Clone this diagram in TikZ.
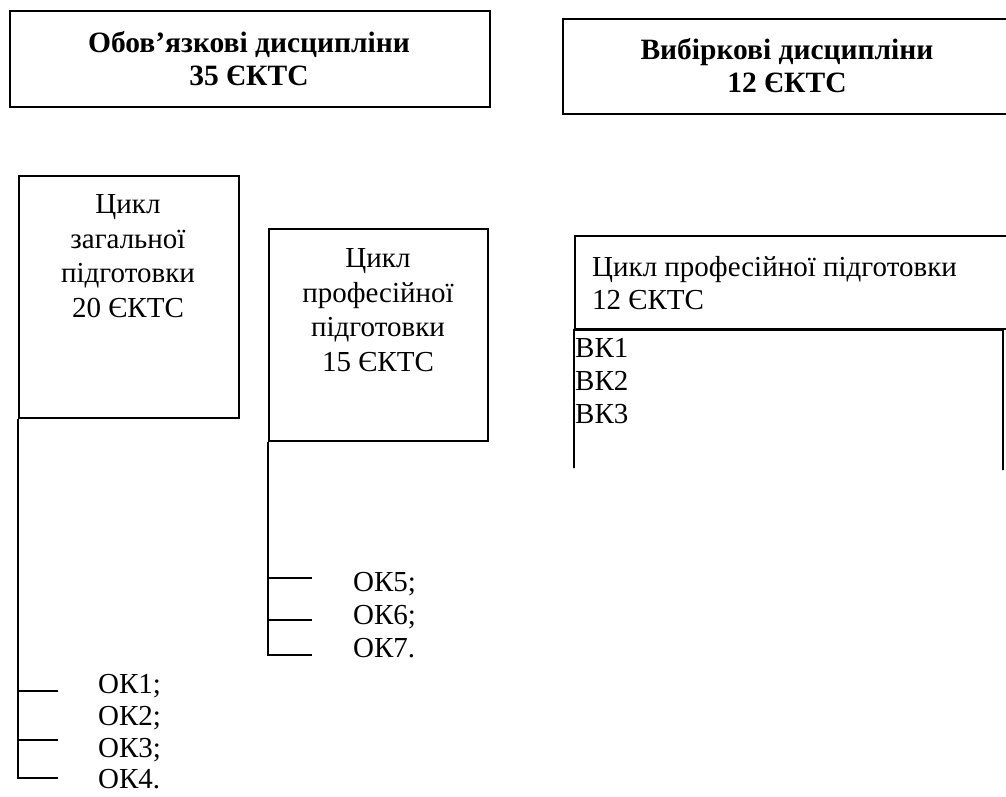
\documentclass[tikz,border=0pt]{standalone}
\usepackage{fontspec}
\setmainfont{Liberation Serif}
\begin{document}
\begin{tikzpicture}[x=1pt,y=-1pt,
  box/.style={draw, line width=1.9pt, inner sep=0pt},
  ttl/.style={font=\fontsize{29.5}{33}\selectfont\bfseries, align=center, inner sep=0pt},
  txt/.style={font=\fontsize{29}{34.5}\selectfont, align=center, inner sep=0pt},
  ltxt/.style={font=\fontsize{29}{33}\selectfont, align=left, inner sep=0pt},
  item/.style={font=\fontsize{29}{32}\selectfont, anchor=base west, inner sep=0pt},
  link/.style={line width=1.9pt}]
\useasboundingbox (0,0) rectangle (1006,796);
\clip (0,0) rectangle (1006,796);
\fill[white] (0,0) rectangle (1006,796);

% top boxes
\node[box, anchor=north west, minimum width=480pt, minimum height=96pt] (ob) at (9,10) {};
\node[ttl] (obt) at (249,59) {Обов’язкові дисципліни\\35 ЄКТС};
\node[box, anchor=north west, minimum width=470pt, minimum height=95pt] (vb) at (562,18) {};
\node[ttl] (vbt) at (787,66) {Вибіркові дисципліни\\12 ЄКТС};

% cycle boxes
\node[box, anchor=north west, minimum width=220pt, minimum height=242pt] (zag) at (18,175) {};
\node[txt] (zagt) at (128,256) {Цикл\\загальної\\підготовки\\20 ЄКТС};
\node[box, anchor=north west, minimum width=219pt, minimum height=212pt] (prof) at (268,228) {};
\node[txt] (proft) at (378,310) {Цикл\\професійної\\підготовки\\15 ЄКТС};

% right block
\node[box, anchor=north west, minimum width=460pt, minimum height=93pt] (vh) at (574,235) {};
\node[ltxt, anchor=base west] (vht) at (592,309) {Цикл професійної підготовки\\12 ЄКТС};
\coordinate (l1) at (574,468);
\coordinate (l2) at (1003,330);
\coordinate (l3) at (1003,470);
\draw[link] (l1) -- (vh.south west) -- (l2) -- (l3);
\node[item] (vk1) at (575,357) {ВК1};
\node[item] (vk2) at (575,390) {ВК2};
\node[item] (vk3) at (575,423) {ВК3};

% left branch
\coordinate (a1) at (18,691);
\coordinate (a2) at (18,740);
\coordinate (a3) at (18,778);
\coordinate (b1) at (58,691);
\coordinate (b2) at (58,740);
\coordinate (b3) at (58,778);
\draw[link] (zag.south west) -- (a3) -- (b3);
\draw[link] (a1) -- (b1);
\draw[link] (a2) -- (b2);
\node[item] (ok1) at (98,693) {ОК1;};
\node[item] (ok2) at (98,725) {ОК2;};
\node[item] (ok3) at (98,757) {ОК3;};
\node[item] (ok4) at (98,788) {ОК4.};

% middle branch
\coordinate (c1) at (268,578);
\coordinate (c2) at (268,620);
\coordinate (c3) at (268,655);
\coordinate (d1) at (312,578);
\coordinate (d2) at (312,620);
\coordinate (d3) at (312,655);
\draw[link] (prof.south west) -- (c3) -- (d3);
\draw[link] (c1) -- (d1);
\draw[link] (c2) -- (d2);
\node[item] (ok5) at (353,591) {ОК5;};
\node[item] (ok6) at (353,624) {ОК6;};
\node[item] (ok7) at (353,657) {ОК7.};
\end{tikzpicture}
\end{document}
